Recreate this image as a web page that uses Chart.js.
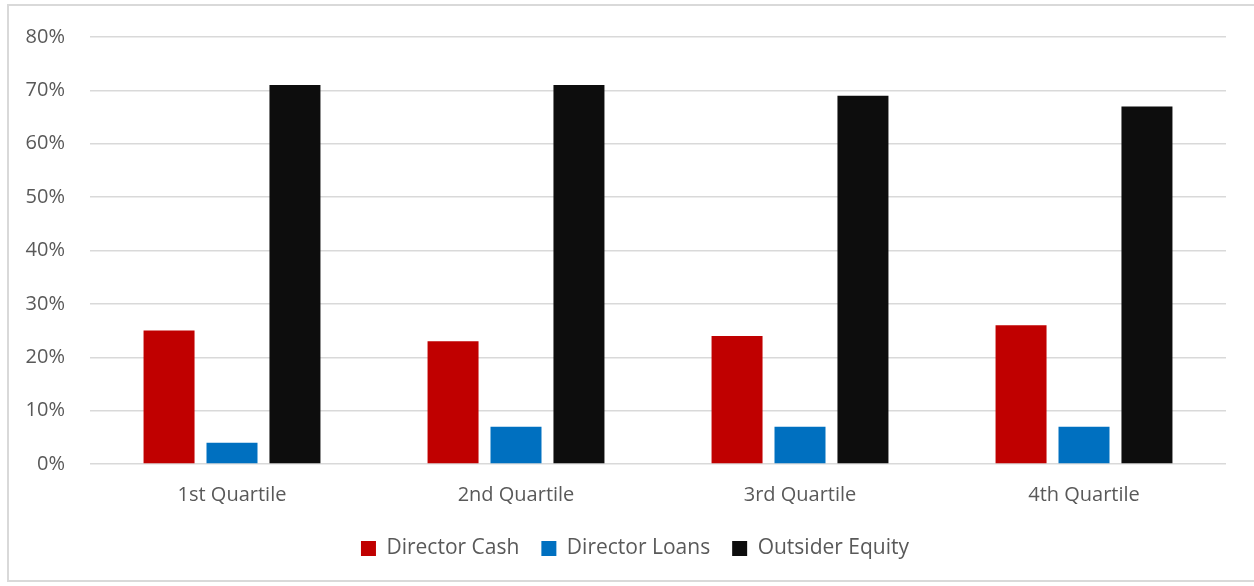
<!DOCTYPE html>
<html>
<head>
<meta charset="utf-8">
<script src="https://cdn.jsdelivr.net/npm/chart.js@4.4.1/dist/chart.umd.min.js"></script>
<style>
  html, body { margin: 0; padding: 0; background: #fff; }
  body { width: 1254px; height: 586px; position: relative; overflow: hidden; }
  #frame {
    position: absolute; left: 7px; top: 4px; width: 1260px; height: 578px;
    border: 2px solid #d9d9d9; box-sizing: border-box;
  }
  #wrap { position: absolute; left: 0; top: 0; width: 1254px; height: 586px; }
</style>
</head>
<body>
<div id="frame"></div>
<div id="wrap"><canvas id="fundingChart"></canvas></div>
<script>
// Categories and series
const quartiles = ['1st Quartile', '2nd Quartile', '3rd Quartile', '4th Quartile'];
const directorCash = [25, 23, 24, 26];
const directorLoans = [4, 7, 7, 7];
const outsiderEquity = [71, 71, 69, 67];

const textColor = '#595959';
const baseFont = "'Open Sans', 'Noto Sans', sans-serif";

// Nudge the legend row a little to the right of the canvas centre
const legendShift = {
    id: 'legendShift',
    afterLayout(chart) {
        chart.legend.left += 22;
        chart.legend.right += 22;
    }
};

const ctx = document.getElementById('fundingChart').getContext('2d');

const fundingChart = new Chart(ctx, {
    type: 'bar',
    data: {
        labels: quartiles,
        datasets: [
            { label: 'Director Cash', data: directorCash, backgroundColor: '#c00000' },
            { label: 'Director Loans', data: directorLoans, backgroundColor: '#0070c0' },
            { label: 'Outsider Equity', data: outsiderEquity, backgroundColor: '#0d0d0d' }
        ]
    },
    options: {
        responsive: true,
        maintainAspectRatio: false,
        animation: false,
        datasets: {
            bar: { categoryPercentage: 0.665, barPercentage: 0.81 }
        },
        layout: {
            padding: { left: 0, right: 28, top: 33, bottom: 17 }
        },
        scales: {
            x: {
                // tighten the gap between the axis labels and the legend
                afterFit: scale => { scale.height -= 10; },
                grid: { display: false, drawTicks: false },
                border: { display: false },
                ticks: {
                    color: textColor,
                    padding: 19,
                    font: { family: baseFont, size: 20 }
                }
            },
            y: {
                min: 0,
                max: 80,
                afterFit: scale => { scale.width = 90; },
                grid: { color: '#d9d9d9', lineWidth: 1.5, drawTicks: false },
                border: { display: false },
                ticks: {
                    stepSize: 10,
                    color: textColor,
                    padding: 25,
                    font: { family: baseFont, size: 20 },
                    callback: value => value + '%'
                }
            }
        },
        plugins: {
            legend: {
                position: 'bottom',
                labels: {
                    color: textColor,
                    boxWidth: 15,
                    boxHeight: 15,
                    padding: 22,
                    font: { family: baseFont, size: 21 }
                }
            },
            tooltip: { enabled: false }
        }
    },
    plugins: [legendShift]
});
</script>
</body>
</html>
